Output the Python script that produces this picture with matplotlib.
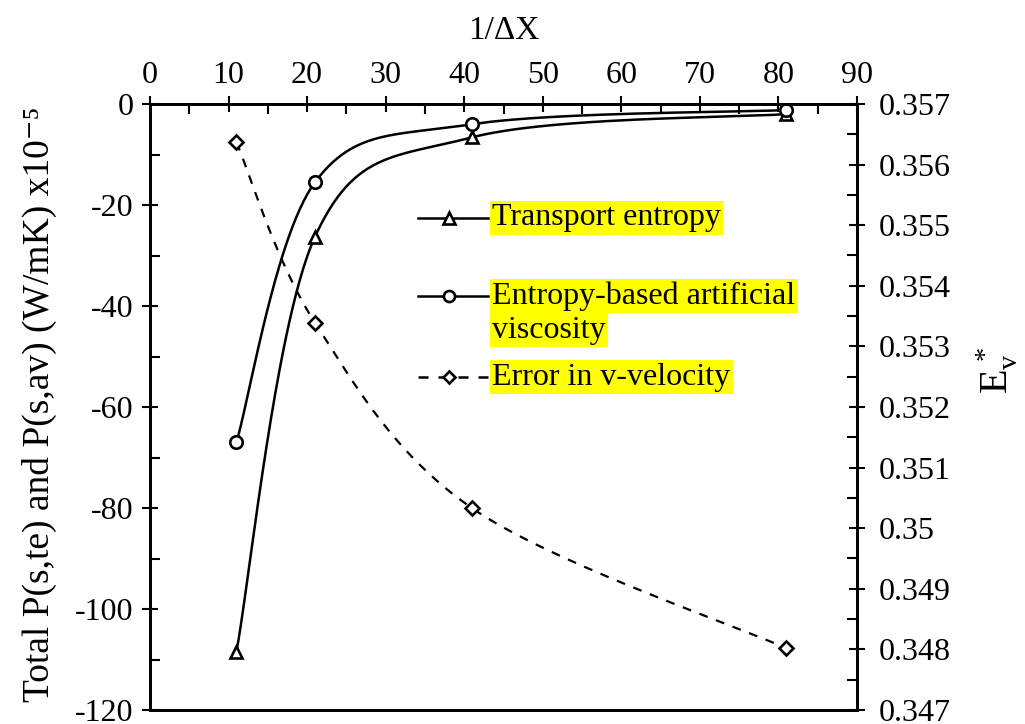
import numpy as np
import matplotlib
matplotlib.use("Agg")
import matplotlib.pyplot as plt
from matplotlib.ticker import MultipleLocator, FuncFormatter
from matplotlib.lines import Line2D

plt.rcParams["font.family"] = ["Liberation Serif", "DejaVu Serif"]
plt.rcParams["mathtext.fontset"] = "stix"
plt.rcParams["axes.unicode_minus"] = False

# Grid resolution (1/ΔX) and results
inv_dx = [11, 21, 41, 81]
transport_entropy = [-108.5, -26.3, -6.6, -2.0]
entropy_av = [-67.0, -15.5, -4.0, -1.2]
error_v = [0.35637, 0.35339, 0.35033, 0.34802]

x_ticks = list(range(0, 91, 10))
left_ticks = list(range(-120, 1, 20))
right_ticks = [0.347, 0.348, 0.349, 0.350, 0.351, 0.352, 0.353,
               0.354, 0.355, 0.356, 0.357]

FS = 23


def smooth(x, y, n=60):
    """Catmull-Rom style Bezier smoothing through every point."""
    p = np.column_stack([x, y]).astype(float)
    pts = np.vstack([p[0], p, p[-1]])
    out = []
    for i in range(1, len(pts) - 2):
        p0, p1, p2, p3 = pts[i - 1], pts[i], pts[i + 1], pts[i + 2]
        c1 = p1 + (p2 - p0) / 6.0
        c2 = p2 - (p3 - p1) / 6.0
        t = np.linspace(0, 1, n)[:, None]
        seg = ((1 - t) ** 3) * p1 + 3 * ((1 - t) ** 2) * t * c1 \
            + 3 * (1 - t) * t ** 2 * c2 + t ** 3 * p2
        out.append(seg if i == 1 else seg[1:])
    s = np.vstack(out)
    return s[:, 0], s[:, 1]


fig = plt.figure(figsize=(10.25, 7.24), dpi=100)
ax = fig.add_axes([150 / 1025, 1 - 710 / 724, 707 / 1025, 606 / 724])
ax2 = ax.twinx()

lw = 1.8
mew = 1.9
ms = 9

sx, sy = smooth(inv_dx, transport_entropy)
ax.plot(sx, sy, color="black", lw=lw)
ax.plot(inv_dx, transport_entropy, ls="none", marker="^", ms=ms,
        mfc="white", mec="black", mew=mew)

sx, sy = smooth(inv_dx, entropy_av)
ax.plot(sx, sy, color="black", lw=lw)
ax.plot(inv_dx, entropy_av, ls="none", marker="o", ms=ms,
        mfc="white", mec="black", mew=mew)

sx, sy = smooth(inv_dx, error_v)
ax2.plot(sx, sy, color="black", lw=lw - 0.2, ls=(0, (4, 4)))
ax2.plot(inv_dx, error_v, ls="none", marker="D", ms=ms - 2,
         mfc="white", mec="black", mew=mew)

# axes ranges and ticks
ax.set_xlim(0, 90)
ax.set_ylim(-120, 0)
ax2.set_ylim(0.347, 0.357)
ax.set_xticks(x_ticks)
ax.set_yticks(left_ticks)
ax2.set_yticks(right_ticks)
ax.xaxis.set_minor_locator(MultipleLocator(5))
ax.yaxis.set_minor_locator(MultipleLocator(10))
ax2.yaxis.set_minor_locator(MultipleLocator(0.0005))
ax2.yaxis.set_major_formatter(FuncFormatter(lambda v, _: f"{v:.3f}".rstrip("0")))

ax.xaxis.tick_top()
ax.xaxis.set_label_position("top")
ax.tick_params(axis="x", which="major", direction="inout", length=12,
               width=1.5, labelsize=FS, pad=4, bottom=False, top=True)
ax.tick_params(axis="x", which="minor", direction="in", length=7,
               width=1.5, bottom=False, top=True)
ax.tick_params(axis="y", which="major", direction="inout", length=12,
               width=1.5, labelsize=FS, pad=6)
ax.tick_params(axis="y", which="minor", direction="in", length=7, width=1.5)
ax2.tick_params(axis="y", which="major", direction="inout", length=12,
                width=1.5, labelsize=FS, pad=10)
ax2.tick_params(axis="y", which="minor", direction="in", length=7, width=1.5)

for a in (ax, ax2):
    for sp in a.spines.values():
        sp.set_linewidth(2)

ax.set_xlabel("1/ΔX", fontsize=FS + 1, labelpad=16)
ax.set_ylabel("Total P(s,te) and P(s,av) (W/mK) x10⁻⁵", fontsize=27)
ax.yaxis.set_label_coords(-0.131, 0.505)
ax2.set_ylabel("$\\mathregular{E_v^{\\,*}}$", fontsize=FS + 6, rotation=90)
ax2.yaxis.set_label_coords(1.165, 0.56)

# legend drawn in axes coordinates
hx0, hx1, hm = 0.379, 0.478, 0.423
tx = 0.484
hl = dict(facecolor="#ffff00", edgecolor="none", pad=1.5)
entries = [
    (0.812, "-", "^", ["Transport entropy"]),
    (0.683, "-", "o", ["Entropy-based artificial", "viscosity"]),
    (0.5495, (0, (4, 4)), "D", ["Error in v-velocity"]),
]
for y, ls, mk, lines in entries:
    ax.add_line(Line2D([hx0, hx1], [y, y], transform=ax.transAxes,
                       color="black", lw=lw, ls=ls))
    ax.add_line(Line2D([hm], [y], transform=ax.transAxes, ls="none",
                       marker=mk, ms=ms - 1 if mk != "D" else ms - 2.5,
                       mfc="white", mec="black", mew=mew))
    for k, txt in enumerate(lines):
        ax.text(tx, y - k * 0.056, txt, transform=ax.transAxes,
                fontsize=FS, va="center", ha="left", bbox=hl)

fig.savefig("out.png", dpi=100)
